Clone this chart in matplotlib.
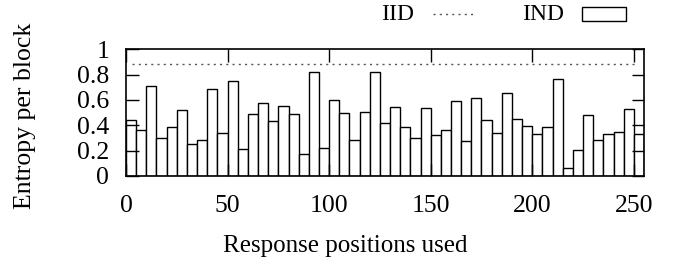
import matplotlib
matplotlib.use("Agg")
import matplotlib.pyplot as plt
from matplotlib.patches import Rectangle
from matplotlib.lines import Line2D
import numpy as np

plt.rcParams['font.family'] = ['Liberation Serif', 'DejaVu Serif']

# data
positions = list(range(0, 255, 5))
ind_entropy = [0.443, 0.364, 0.707, 0.303, 0.385, 0.520, 0.253, 0.288, 0.686, 0.340,
               0.747, 0.216, 0.491, 0.580, 0.438, 0.549, 0.493, 0.177, 0.823, 0.222,
               0.602, 0.501, 0.285, 0.509, 0.823, 0.422, 0.546, 0.388, 0.301, 0.533,
               0.327, 0.361, 0.591, 0.277, 0.612, 0.440, 0.343, 0.652, 0.451, 0.396,
               0.332, 0.383, 0.765, 0.066, 0.208, 0.480, 0.288, 0.335, 0.351, 0.525,
               0.332]
iid_entropy = 0.885
x_ticks = [0, 50, 100, 150, 200, 250]
y_ticks = [0, 0.2, 0.4, 0.6, 0.8, 1]
y_tick_labels = ["0", "0.2", "0.4", "0.6", "0.8", "1"]

W, H = 674, 264
fig = plt.figure(figsize=(W / 100, H / 100), dpi=100)
ax = fig.add_axes([126 / W, 1 - 176 / H, (644 - 126) / W, (176 - 49.3) / H])

fs = 18.5
ax.bar(positions, ind_entropy, width=5, align='edge', facecolor='white',
       edgecolor='black', linewidth=1.0)
ax.axhline(iid_entropy, xmin=3 / 255, xmax=252 / 255, color='#555555', linestyle=(0, (1.5, 3)),
           linewidth=1.0)

ax.set_xlim(0, 255)
ax.set_ylim(0, 1)
ax.set_xticks(x_ticks)
ax.set_yticks(y_ticks)
ax.set_yticklabels(y_tick_labels)
ax.tick_params(direction='in', length=9, width=1, top=True, right=True,
               labelsize=fs)
ax.tick_params(axis='x', pad=14)
ax.tick_params(axis='y', pad=12)
for s in ax.spines.values():
    s.set_linewidth(1.2)

fig.text(345 / W, 1 - 246 / H, "Response positions used", fontsize=18, ha='center', va='center')
fig.text(25 / W, 1 - 116 / H, "Entropy per block", fontsize=18.5, ha='center', va='center',
         rotation=90)

# legend (manual, top right)
fig.text(398 / W, 1 - 14 / H, "IID", fontsize=17, ha='center', va='center')
fig.add_artist(Line2D([433 / W, 476 / W], [1 - 14 / H, 1 - 14 / H], color='#555555',
                      linestyle=(0, (1.5, 3)), linewidth=1.0))
fig.text(543 / W, 1 - 14 / H, "IND", fontsize=17, ha='center', va='center')
fig.add_artist(Rectangle((582 / W, 1 - 21 / H), 44 / W, 14 / H, facecolor='white',
                         edgecolor='black', linewidth=1.0, transform=fig.transFigure))

fig.savefig("out.png", dpi=100)
